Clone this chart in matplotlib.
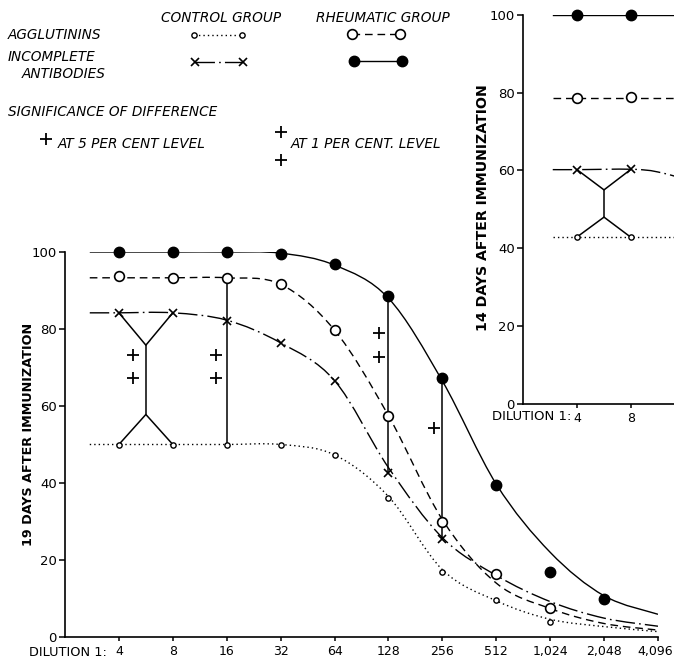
import numpy as np
import matplotlib
matplotlib.use("Agg")
import matplotlib.pyplot as plt
import matplotlib.transforms as mtransforms
from matplotlib.path import Path
from matplotlib.patches import PathPatch

# ==== DATA : 19 DAYS AFTER IMMUNIZATION ====
DILUTIONS = [4, 8, 16, 32, 64, 128, 256, 512, 1024, 2048, 4096]
TICK_LABELS = ["4", "8", "16", "32", "64", "128", "256", "512", "1,024", "2,048", "4,096"]

rheum_incomplete = [100, 100, 100, 99.6, 97.0, 88.6, 67.4, 39.5, 17.0, 10.0]
rheum_agglutinins = [93.8, 93.3, 93.3, 91.6, 79.7, 57.4, 30.0, 16.4, 7.6]
control_incomplete = [84.2, 84.2, 82.2, 76.3, 66.6, 42.7, 25.4]
control_agglutinins = [50, 50, 50, 50, 47.3, 36.0, 17.0, 9.6, 3.8]

# fitted curves at the line start and at every dilution
FIT_DILUTIONS = [2.75] + DILUTIONS
rheum_incomplete_fit = [100, 100, 100, 100, 99.7, 96.6, 88.0, 66.5, 39.7, 22.0, 10.7, 5.9]
rheum_agglutinins_fit = [93.3, 93.3, 93.3, 93.3, 91.6, 79.7, 57.5, 30.5, 14.0, 7.4, 3.5, 1.8]
control_incomplete_fit = [84.2, 84.2, 84.2, 82.3, 76.4, 66.6, 44.0, 25.8, 16.0, 9.2, 4.9, 2.8]
control_agglutinins_fit = [50, 50, 50, 50, 50, 47.3, 36.5, 17.5, 9.4, 4.6, 2.7, 1.4]

# significance marks (dilution, value)
sig1_dil = [4.8, 13.9, 113]
sig1_val = [(73.2, 67.4), (73.2, 67.4), (78.9, 72.8)]
sig5_dil = [231]
sig5_val = [54.4]
fork_19 = (75.8, 57.8)   # junction heights of the fork between 1:4 and 1:8

# ==== DATA : 14 DAYS AFTER IMMUNIZATION ====
D14_DILUTIONS = [4, 8]
d14_rheum_incomplete = [100, 100]
d14_rheum_agglutinins = [78.7, 78.8]
d14_control_incomplete = [60.2, 60.3]
d14_control_agglutinins = [42.9, 42.8]
D14_FIT_DILUTIONS = [2.93, 4, 8, 11.3, 18.4]
d14_control_incomplete_fit = [60.2, 60.2, 60.3, 59.6, 57.0]
fork_14 = (55.0, 48.0)

# ==== STYLES ====
DASHED = (0, (5.5, 3.5))
DASHDOT = (0, (14, 3, 1.2, 3))
DOTTED = (0, (1, 2.2))
FONT = "DejaVu Sans"
W, H = 674, 659


def smooth_path(x, y):
    # Catmull-Rom curve through the read points, drawn as bezier segments
    pts = np.column_stack([x, y]).astype(float)
    p = np.vstack([pts[0], pts, pts[-1]])
    verts = [pts[0]]
    codes = [Path.MOVETO]
    for i in range(1, len(p) - 2):
        c1 = p[i] + (p[i + 1] - p[i - 1]) / 6
        c2 = p[i + 1] - (p[i + 2] - p[i]) / 6
        verts += [c1, c2, p[i + 1]]
        codes += [Path.CURVE4] * 3
    return Path(verts, codes)


def draw_fit(ax, dil, vals, ls):
    patch = PathPatch(smooth_path(np.log2(dil), vals), fill=False,
                      lw=1.0, ls=ls, edgecolor="black", zorder=2)
    ax.add_patch(patch)


def draw_markers(ax, dil, vals, kind):
    x = np.log2(dil[:len(vals)])
    if kind == "filled":
        ax.plot(x, vals, "o", ms=7.5, color="black", zorder=4, clip_on=False)
    elif kind == "open":
        ax.plot(x, vals, "o", ms=7, mfc="white", mec="black", mew=1.2, zorder=4, clip_on=False)
    elif kind == "small":
        ax.plot(x, vals, "o", ms=3.8, mfc="white", mec="black", mew=1.0, zorder=4, clip_on=False)
    else:
        ax.plot(x, vals, "x", ms=6, color="black", mew=1.2, zorder=4, clip_on=False)


def draw_fork(ax, top, bottom, fork):
    xm = 2.5
    ax.plot([2, xm, 3], [top[0], fork[0], top[1]], color="black", lw=1.1, zorder=3)
    ax.plot([xm, xm], [fork[0], fork[1]], color="black", lw=1.1, zorder=3)
    ax.plot([2, xm, 3], [bottom[0], fork[1], bottom[1]], color="black", lw=1.1, zorder=3)


def style_axes(ax, xmax):
    ax.set_xlim(1, xmax)
    ax.set_ylim(0, 100)
    ax.spines["top"].set_visible(False)
    ax.spines["right"].set_visible(False)
    ax.spines["left"].set_linewidth(1.2)
    ax.spines["bottom"].set_linewidth(1.2)
    ax.set_yticks([0, 20, 40, 60, 80, 100])
    ax.tick_params(axis="y", direction="out", length=4.5, width=1.1, pad=1.5, labelsize=9.5)
    ax.tick_params(axis="x", direction="out", length=3, width=1.1, pad=3, labelsize=9)
    ax.patch.set_alpha(0)


fig = plt.figure(figsize=(W / 100, H / 100), dpi=100)

# overlay in pixel coordinates for the key and free text
ov = fig.add_axes([0, 0, 1, 1])
ov.set_xlim(0, W)
ov.set_ylim(H, 0)
ov.axis("off")

# ==== MAIN CHART ====
ax = fig.add_axes([65 / W, 22 / H, 593 / W, 385 / H])
style_axes(ax, 12)
ax.set_xticks(np.log2(DILUTIONS))
ax.set_xticklabels(TICK_LABELS)
# the last label sits at the paper edge in the original
last = ax.get_xticklabels()[-1]
last.set_transform(last.get_transform() + mtransforms.ScaledTranslation(-3 / 100, 0, fig.dpi_scale_trans))

draw_fit(ax, FIT_DILUTIONS, rheum_incomplete_fit, "-")
draw_fit(ax, FIT_DILUTIONS, rheum_agglutinins_fit, DASHED)
draw_fit(ax, FIT_DILUTIONS, control_incomplete_fit, DASHDOT)
draw_fit(ax, FIT_DILUTIONS, control_agglutinins_fit, DOTTED)

draw_markers(ax, DILUTIONS, rheum_incomplete, "filled")
draw_markers(ax, DILUTIONS, rheum_agglutinins, "open")
draw_markers(ax, DILUTIONS, control_incomplete, "cross")
draw_markers(ax, DILUTIONS, control_agglutinins, "small")

# connectors between compared points
ax.plot([4, 4], [control_agglutinins[2], rheum_agglutinins[2]], color="black", lw=1.1, zorder=3)
ax.plot([7, 7], [control_incomplete[5], rheum_incomplete[5]], color="black", lw=1.1, zorder=3)
ax.plot([8, 8], [control_incomplete[6], rheum_incomplete[6]], color="black", lw=1.1, zorder=3)
draw_fork(ax, control_incomplete[:2], control_agglutinins[:2], fork_19)

for d, (y1, y2) in zip(sig1_dil, sig1_val):
    ax.plot([np.log2(d)] * 2, [y1, y2], "+", ms=9, mew=1.3, color="black")
ax.plot(np.log2(sig5_dil), sig5_val, "+", ms=9, mew=1.3, color="black")

ov.text(107, 652, "DILUTION 1:", ha="right", va="center", fontsize=9.3, family=FONT)
ov.text(29, 434, "19 DAYS AFTER IMMUNIZATION", rotation=90, ha="center", va="center",
        fontsize=9.2, fontweight="bold", family=FONT)

# ==== INSET : 14 DAYS ====
ax2 = fig.add_axes([523 / W, 255 / H, 151 / W, 389.3 / H])
x_end = 1 + 151 / 54
style_axes(ax2, x_end)
ax2.set_xticks(np.log2(D14_DILUTIONS))
ax2.set_xticklabels(["4", "8"])

x0 = np.log2(D14_FIT_DILUTIONS[0])
ax2.plot([x0, x_end], [d14_rheum_incomplete[0]] * 2, color="black", lw=1.0)
ax2.plot([x0, x_end], [d14_rheum_agglutinins[0]] * 2, color="black", lw=1.0, ls=DASHED)
ax2.plot([x0, x_end], [d14_control_agglutinins[0]] * 2, color="black", lw=1.0, ls=DOTTED)
draw_fit(ax2, D14_FIT_DILUTIONS, d14_control_incomplete_fit, DASHDOT)

draw_markers(ax2, D14_DILUTIONS, d14_rheum_incomplete, "filled")
draw_markers(ax2, D14_DILUTIONS, d14_rheum_agglutinins, "open")
draw_markers(ax2, D14_DILUTIONS, d14_control_incomplete, "cross")
draw_markers(ax2, D14_DILUTIONS, d14_control_agglutinins, "small")
draw_fork(ax2, d14_control_incomplete, d14_control_agglutinins, fork_14)

ov.text(571, 417, "DILUTION 1:", ha="right", va="center", fontsize=9.5, family=FONT)
ov.text(483, 208, "14 DAYS AFTER IMMUNIZATION", rotation=90, ha="center", va="center",
        fontsize=10.2, fontweight="bold", family=FONT)

# ==== KEY ====
kw = dict(fontsize=9.8, style="italic", family=FONT, va="center")
ov.text(221, 18, "CONTROL GROUP", ha="center", **kw)
ov.text(383, 18, "RHEUMATIC GROUP", ha="center", **kw)
ov.text(8, 35, "AGGLUTININS", ha="left", **kw)
ov.text(8, 57, "INCOMPLETE", ha="left", **kw)
ov.text(22, 74, "ANTIBODIES", ha="left", **kw)
ov.text(8, 112, "SIGNIFICANCE OF DIFFERENCE", ha="left", **kw)
ov.text(58, 144, "AT 5 PER CENT LEVEL", ha="left", **kw)
ov.text(291, 144, "AT 1 PER CENT. LEVEL", ha="left", **kw)

ov.plot([194, 242], [35, 35], color="black", lw=1.0, ls=DOTTED)
ov.plot([194, 242], [35, 35], "o", ms=3.8, mfc="white", mec="black", mew=1.0)
ov.plot([352, 400], [34, 34], color="black", lw=1.0, ls=DASHED)
ov.plot([352, 400], [34, 34], "o", ms=7, mfc="white", mec="black", mew=1.2)
ov.plot([195, 243], [62, 62], color="black", lw=1.0, ls=DASHDOT)
ov.plot([195, 243], [62, 62], "x", ms=6, color="black", mew=1.2)
ov.plot([354, 402], [61, 61], color="black", lw=1.0)
ov.plot([354, 402], [61, 61], "o", ms=7.5, color="black")
ov.plot([46], [139], "+", ms=9, mew=1.3, color="black")
ov.plot([281, 281], [132, 160], "+", ms=9, mew=1.3, color="black", ls="none")

fig.savefig("out.png", dpi=100)
